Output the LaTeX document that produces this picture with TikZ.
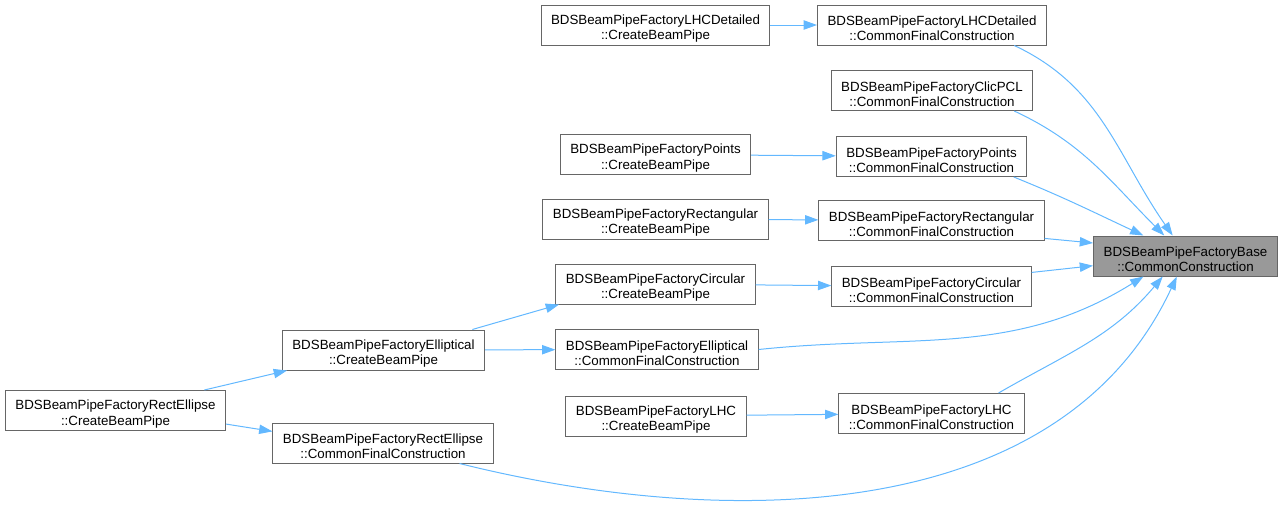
\documentclass[tikz,border=0pt]{standalone}
\usepackage{fontspec}
\setmainfont{Liberation Sans}
\usepackage{tikz}
\usepackage{xcolor}
\usetikzlibrary{arrows.meta}
\definecolor{callblue}{HTML}{63B8FF}
\definecolor{framegray}{HTML}{666666}
\definecolor{basegray}{HTML}{999999}
\tikzset{>={Triangle[length=10pt,width=7pt]}}
\tikzset{
  fn/.style={draw=framegray, fill=white, line width=0.75pt, align=center,
    minimum height=30pt, inner xsep=7.5pt, inner ysep=0pt,
    font=\fontsize{10}{11.5}\selectfont,
    execute at begin node={\rule{0pt}{24pt}}},
  hilite/.style={fn, fill=basegray},
  call/.style={->, draw=callblue, line width=0.75pt},
}

\begin{document}
\begin{tikzpicture}[x=0.75pt, y=-0.75pt]
  \useasboundingbox (0, 0) rectangle (1283, 508);
  \node[hilite] (common) at (1185.5, 256) {BDSBeamPipeFactoryBase\\::CommonConstruction};
  \node[fn] (lhcdCreate) at (655.5, 25) {BDSBeamPipeFactoryLHCDetailed\\::CreateBeamPipe};
  \node[fn] (lhcdFinal) at (932, 25) {BDSBeamPipeFactoryLHCDetailed\\::CommonFinalConstruction};
  \node[fn] (clicFinal) at (932, 90.5) {BDSBeamPipeFactoryClicPCL\\::CommonFinalConstruction};
  \node[fn] (pointsCreate) at (655.5, 154.5) {BDSBeamPipeFactoryPoints\\::CreateBeamPipe};
  \node[fn] (pointsFinal) at (931.5, 156.5) {BDSBeamPipeFactoryPoints\\::CommonFinalConstruction};
  \node[fn] (rectCreate) at (655.5, 219) {BDSBeamPipeFactoryRectangular\\::CreateBeamPipe};
  \node[fn] (rectFinal) at (931.5, 220.5) {BDSBeamPipeFactoryRectangular\\::CommonFinalConstruction};
  \node[fn] (circCreate) at (655.5, 284) {BDSBeamPipeFactoryCircular\\::CreateBeamPipe};
  \node[fn] (circFinal) at (931.5, 286.5) {BDSBeamPipeFactoryCircular\\::CommonFinalConstruction};
  \node[fn] (ellCreate) at (383.5, 350) {BDSBeamPipeFactoryElliptical\\::CreateBeamPipe};
  \node[fn] (ellFinal) at (657, 349.5) {BDSBeamPipeFactoryElliptical\\::CommonFinalConstruction};
  \node[fn] (lhcCreate) at (656, 416) {BDSBeamPipeFactoryLHC\\::CreateBeamPipe};
  \node[fn] (lhcFinal) at (931.5, 413.5) {BDSBeamPipeFactoryLHC\\::CommonFinalConstruction};
  \node[fn] (reCreate) at (115.5, 410.5) {BDSBeamPipeFactoryRectEllipse\\::CreateBeamPipe};
  \node[fn] (reFinal) at (383, 443) {BDSBeamPipeFactoryRectEllipse\\::CommonFinalConstruction};

  \draw[call] (lhcdCreate) -- (lhcdFinal);
  \draw[call] (pointsCreate) -- (pointsFinal);
  \draw[call] (rectCreate) -- (rectFinal);
  \draw[call] (circCreate) -- (circFinal);
  \draw[call] (ellCreate) -- (ellFinal);
  \draw[call] (lhcCreate) -- (lhcFinal);
  \draw[call] (ellCreate.13) -- (circCreate.192);
  \draw[call] (reCreate.13) -- (ellCreate.192);
  \draw[call] (reCreate.-7) -- (reFinal.174);

  \draw[call] (lhcdFinal.-14) to[out=-25, in=125] (common.122);
  \draw[call] (clicFinal.-14) to[out=-25, in=135] (common.136);
  \draw[call] (pointsFinal.-14) to[out=-22, in=155] (common.154);
  \draw[call] (rectFinal.-9) -- (common.172);
  \draw[call] (circFinal.8) -- (common.186);
  \draw[call] (ellFinal.east) to[out=6, in=-148] (common.206);
  \draw[call] (lhcFinal.17) to[out=30, in=-130] (common.222);
  \draw[call] (reFinal.-15) to[out=-14, in=-115, looseness=0.95] (common.247);
\end{tikzpicture}
\end{document}
